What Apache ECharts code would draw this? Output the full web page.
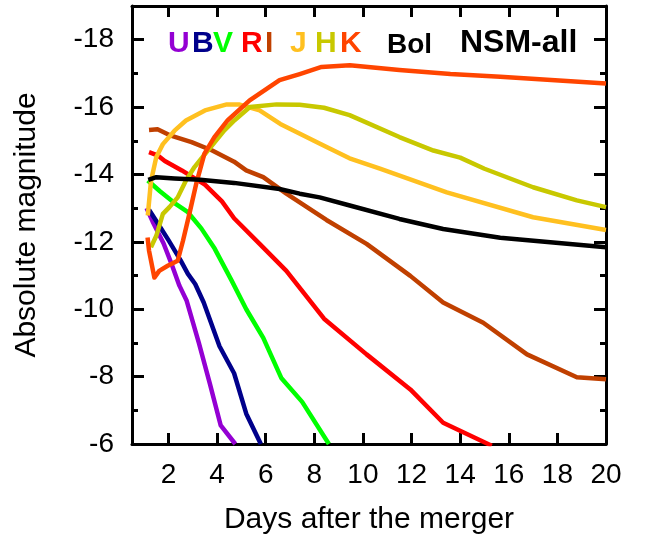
<!DOCTYPE html>
<html>
<head>
<meta charset="utf-8">
<script src="https://cdn.jsdelivr.net/npm/echarts@6/dist/echarts.min.js"></script>
<style>
  html, body { margin: 0; padding: 0; background: #fff; }
  #chart { width: 650px; height: 535px; }
</style>
</head>
<body>
<div id="chart"></div>
<script>
// Light curves of the NSM-all model: [days after merger, absolute magnitude]
const bandU = [[1.1,-13.0],[1.35,-12.6],[1.8,-11.95],[2.15,-11.3],[2.45,-10.7],[2.75,-10.25],[3.25,-9.0],[3.7,-7.8],[4.15,-6.55],[4.75,-6.0]];
const bandB = [[1.2,-12.95],[1.65,-12.45],[2.0,-12.05],[2.5,-11.45],[2.8,-11.05],[3.1,-10.75],[3.45,-10.2],[4.1,-8.9],[4.7,-8.1],[5.2,-6.9],[5.8,-6.0]];
const bandV = [[1.15,-13.82],[1.65,-13.5],[2.25,-13.15],[2.8,-12.88],[3.35,-12.4],[3.9,-11.8],[4.6,-10.85],[5.2,-10.0],[5.9,-9.15],[6.65,-7.95],[7.5,-7.25],[8.6,-6.0]];
const bandR = [[1.2,-14.66],[1.55,-14.57],[1.85,-14.4],[2.55,-14.12],[3.5,-13.7],[4.2,-13.2],[4.7,-12.7],[5.75,-11.94],[6.85,-11.14],[8.4,-9.72],[10.15,-8.66],[11.95,-7.62],[13.3,-6.63],[15.3,-5.95]];
const bandI = [[1.2,-15.32],[1.55,-15.34],[2.1,-15.15],[2.95,-14.96],[3.8,-14.71],[4.7,-14.38],[5.2,-14.12],[5.9,-13.92],[6.85,-13.43],[8.5,-12.65],[10.15,-11.94],[11.95,-10.99],[13.3,-10.2],[14.95,-9.6],[16.75,-8.66],[18.8,-7.98],[20,-7.92]];
const bandJ = [[1.15,-12.78],[1.28,-13.8],[1.5,-14.52],[1.77,-14.9],[2.25,-15.3],[2.72,-15.6],[3.5,-15.9],[4.4,-16.08],[4.9,-16.08],[5.75,-15.9],[6.6,-15.5],[8.4,-14.85],[9.45,-14.48],[10.7,-14.17],[13.45,-13.47],[17,-12.73],[20,-12.35]];
const bandH = [[1.28,-11.84],[1.5,-12.18],[1.77,-12.83],[2.04,-13.03],[2.38,-13.32],[2.72,-13.82],[3.07,-14.22],[3.62,-14.71],[4.3,-15.31],[4.72,-15.61],[5.35,-16.0],[6.45,-16.08],[7.4,-16.07],[8.4,-15.98],[9.45,-15.76],[11.5,-15.11],[12.9,-14.71],[14,-14.5],[15,-14.17],[17,-13.62],[18.8,-13.23],[20,-13.03]];
const bandK = [[1.14,-12.13],[1.2,-11.74],[1.42,-10.94],[1.62,-11.14],[1.97,-11.29],[2.38,-11.44],[2.6,-12.04],[2.86,-12.83],[3.14,-13.72],[3.48,-14.62],[3.89,-15.11],[4.44,-15.61],[5.34,-16.2],[6.57,-16.8],[7.4,-16.98],[8.3,-17.19],[9.46,-17.24],[11.5,-17.1],[13.6,-16.98],[15.65,-16.9],[20,-16.7]];
const bolometric = [[1.17,-13.84],[1.5,-13.92],[2.25,-13.88],[3.3,-13.84],[4.7,-13.75],[6.57,-13.57],[7.4,-13.43],[8.22,-13.32],[9.46,-13.08],[11.5,-12.68],[13.3,-12.38],[15.65,-12.12],[20,-11.84]];

// Axis ticks
const dayTicks = [2, 4, 6, 8, 10, 12, 14, 16, 18, 20];
const magMajorTicks = [-18, -16, -14, -12, -10, -8, -6];
const magMinorTicks = [-17, -15, -13, -11, -9, -7];

const FONT = '"Liberation Sans", Arial, sans-serif';

const curves = [
  { name: 'U', data: bandU, color: '#9400D3' },
  { name: 'B', data: bandB, color: '#00008B' },
  { name: 'V', data: bandV, color: '#00FF00' },
  { name: 'R', data: bandR, color: '#FF0000' },
  { name: 'I', data: bandI, color: '#C04000' },
  { name: 'J', data: bandJ, color: '#FFC020' },
  { name: 'H', data: bandH, color: '#C8C800' },
  { name: 'K', data: bandK, color: '#FF4500' },
  { name: 'Bol', data: bolometric, color: '#000000' }
];

const axisLine = { show: true, onZero: false, lineStyle: { color: '#000', width: 3 } };

function xAxisDef(position, withLabels) {
  return {
    type: 'value', position: position, min: 0.5, max: 20,
    axisLine: axisLine,
    axisTick: { show: true, inside: true, length: 11, customValues: dayTicks, lineStyle: { color: '#000', width: 3 } },
    axisLabel: withLabels
      ? { show: true, customValues: dayTicks, fontSize: 28, color: '#000', fontFamily: FONT, margin: 17 }
      : { show: false },
    splitLine: { show: false }
  };
}

function yAxisDef(position, ticks, len, withLabels, showLine) {
  return {
    type: 'value', position: position, min: -19, max: -6, inverse: true,
    axisLine: showLine ? axisLine : { show: false },
    axisTick: { show: true, inside: true, length: len, customValues: ticks, lineStyle: { color: '#000', width: 3 } },
    axisLabel: withLabels
      ? { show: true, customValues: ticks, fontSize: 28, color: '#000', fontFamily: FONT, margin: 18 }
      : { show: false },
    splitLine: { show: false }
  };
}

const xMain = xAxisDef('bottom', true);
xMain.name = 'Days after the merger';
xMain.nameLocation = 'middle';
xMain.nameGap = 61;
xMain.nameTextStyle = { fontSize: 30, color: '#000', fontFamily: FONT };

const yMain = yAxisDef('left', magMajorTicks, 12, true, true);
yMain.name = 'Absolute magnitude';
yMain.nameLocation = 'middle';
yMain.nameGap = 90;
yMain.nameTextStyle = { fontSize: 30, color: '#000', fontFamily: FONT };

// Legend lettering, one coloured glyph group per band
const legendItems = [
  { text: 'U', x: 168, color: '#9400D3', size: 30 },
  { text: 'B', x: 192, color: '#00008B', size: 30 },
  { text: 'V', x: 213, color: '#00FF00', size: 30 },
  { text: 'R', x: 241, color: '#FF0000', size: 30 },
  { text: 'I', x: 265, color: '#C04000', size: 30 },
  { text: 'J', x: 290, color: '#FFC020', size: 30 },
  { text: 'H', x: 315, color: '#C8C800', size: 30 },
  { text: 'K', x: 340, color: '#FF4500', size: 30 },
  { text: 'Bol', x: 387, color: '#000000', size: 28 },
  { text: 'NSM-all', x: 460, color: '#000000', size: 32 }
];

const chart = echarts.init(document.getElementById('chart'), null, { renderer: 'canvas' });
chart.setOption({
  animation: false,
  backgroundColor: '#fff',
  grid: { left: 132, right: 44, top: 6, bottom: 91, containLabel: false, outerBoundsMode: 'none' },
  xAxis: [xMain, xAxisDef('top', false)],
  yAxis: [
    yMain,
    yAxisDef('left', magMinorTicks, 6, false, false),
    yAxisDef('right', magMajorTicks, 12, false, true),
    yAxisDef('right', magMinorTicks, 6, false, false)
  ],
  graphic: legendItems.map(it => ({
    type: 'text', x: it.x, y: 59,
    style: {
      text: it.text, fill: it.color,
      font: 'bold ' + it.size + 'px ' + FONT,
      textAlign: 'left', textVerticalAlign: 'bottom', align: 'left', verticalAlign: 'bottom'
    }
  })),
  series: curves.map(c => ({
    name: c.name, type: 'line', xAxisIndex: 0, yAxisIndex: 0,
    data: c.data, showSymbol: false, symbol: 'none', clip: true,
    lineStyle: { color: c.color, width: 4.5, cap: 'butt', join: 'round' },
    itemStyle: { color: c.color }
  }))
});
</script>
</body>
</html>
